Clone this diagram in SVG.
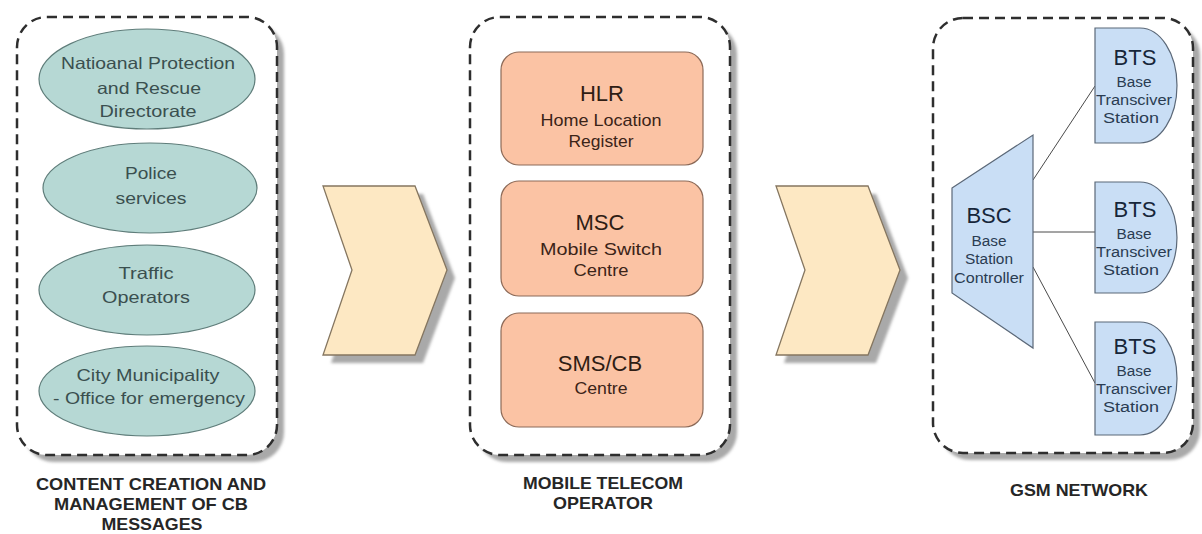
<svg xmlns="http://www.w3.org/2000/svg" width="1202" height="534" viewBox="0 0 1202 534">
  <style>
    text { font-family: "Liberation Sans", Arial, sans-serif; text-anchor: middle; }
    .panel { fill: #ffffff; stroke: #2e2e2e; stroke-width: 2.5; stroke-dasharray: 10 6; }
    .panel-shadow { fill: #a9a9a9; filter: url(#soft); }
    .caption { font-size: 17px; font-weight: bold; fill: #262626; }
    .org { fill: #b6d8d4; stroke: #5f7d7a; stroke-width: 1.2; }
    .org-text { font-size: 16.5px; fill: #3a4f4f; }
    .core { fill: #fbc3a4; stroke: #8c6a58; stroke-width: 1.2; }
    .core-title { font-size: 22px; fill: #2f1d14; }
    .core-sub { font-size: 17px; fill: #3b2418; }
    .flow { fill: #fde8c3; stroke: #857660; stroke-width: 1.3; }
    .flow-shadow { fill: #a9a9a9; filter: url(#soft); }
    .radio { fill: #c9def5; stroke: #5b6878; stroke-width: 1.2; }
    .radio-title { font-size: 22px; fill: #17263a; }
    .radio-sub { font-size: 14px; fill: #2a3c52; }
    .link { stroke: #4a4a4a; stroke-width: 1; fill: none; }
  </style>
  <defs>
    <filter id="soft" x="-10%" y="-10%" width="120%" height="120%">
      <feGaussianBlur stdDeviation="1.5"/>
    </filter>
  </defs>

  <rect width="1202" height="534" fill="#ffffff"/>

  <!-- Content creation panel -->
  <g id="panel-content">
    <rect class="panel-shadow" x="24" y="24" width="260" height="438" rx="30"/>
    <rect class="panel" x="17" y="17" width="260" height="438" rx="30"/>
    <text class="caption" x="151" y="490" textLength="230" lengthAdjust="spacingAndGlyphs">CONTENT CREATION AND</text>
    <text class="caption" x="151" y="510" textLength="194" lengthAdjust="spacingAndGlyphs">MANAGEMENT OF CB</text>
    <text class="caption" x="152" y="530" textLength="101" lengthAdjust="spacingAndGlyphs">MESSAGES</text>
  </g>

  <g id="node-nprd">
    <ellipse class="org" cx="147" cy="79" rx="108" ry="50"/>
    <text class="org-text" x="148" y="69" textLength="174" lengthAdjust="spacingAndGlyphs">Natioanal Protection</text>
    <text class="org-text" x="149" y="94" textLength="104" lengthAdjust="spacingAndGlyphs">and Rescue</text>
    <text class="org-text" x="148" y="117" textLength="97" lengthAdjust="spacingAndGlyphs">Directorate</text>
  </g>
  <g id="node-police">
    <ellipse class="org" cx="150" cy="188" rx="107" ry="45"/>
    <text class="org-text" x="151" y="179" textLength="52" lengthAdjust="spacingAndGlyphs">Police</text>
    <text class="org-text" x="151" y="204" textLength="71" lengthAdjust="spacingAndGlyphs">services</text>
  </g>
  <g id="node-traffic">
    <ellipse class="org" cx="147" cy="290" rx="108" ry="45"/>
    <text class="org-text" x="146" y="279" textLength="55" lengthAdjust="spacingAndGlyphs">Traffic</text>
    <text class="org-text" x="146" y="303" textLength="88" lengthAdjust="spacingAndGlyphs">Operators</text>
  </g>
  <g id="node-city">
    <ellipse class="org" cx="147" cy="391" rx="108" ry="45"/>
    <text class="org-text" x="148" y="381" textLength="143" lengthAdjust="spacingAndGlyphs">City Municipality</text>
    <text class="org-text" x="149" y="404" textLength="192" lengthAdjust="spacingAndGlyphs">- Office for emergency</text>
  </g>

  <!-- Flow chevrons -->
  <g id="flow-1">
    <polygon class="flow-shadow" points="331,194 423,194 455,278 423,363 331,363 360,278"/>
    <polygon class="flow" points="323,186 415,186 447,270 415,355 323,355 352,270"/>
  </g>
  <g id="flow-2">
    <polygon class="flow-shadow" points="784,194 876,194 908,278 876,363 784,363 813,278"/>
    <polygon class="flow" points="776,186 868,186 900,270 868,355 776,355 805,270"/>
  </g>

  <!-- Mobile telecom operator panel -->
  <g id="panel-operator">
    <rect class="panel-shadow" x="477" y="24" width="260" height="438" rx="30"/>
    <rect class="panel" x="470" y="17" width="260" height="438" rx="30"/>
    <text class="caption" x="603" y="489" textLength="160" lengthAdjust="spacingAndGlyphs">MOBILE TELECOM</text>
    <text class="caption" x="603" y="509" textLength="100" lengthAdjust="spacingAndGlyphs">OPERATOR</text>
  </g>

  <g id="node-hlr">
    <rect class="core" x="501" y="52" width="202" height="113" rx="18"/>
    <text class="core-title" x="602" y="101">HLR</text>
    <text class="core-sub" x="601" y="126" textLength="121" lengthAdjust="spacingAndGlyphs">Home Location</text>
    <text class="core-sub" x="601" y="147" textLength="65" lengthAdjust="spacingAndGlyphs">Register</text>
  </g>
  <g id="node-msc">
    <rect class="core" x="501" y="181" width="202" height="115" rx="18"/>
    <text class="core-title" x="600" y="230">MSC</text>
    <text class="core-sub" x="601" y="255" textLength="122" lengthAdjust="spacingAndGlyphs">Mobile Switch</text>
    <text class="core-sub" x="601" y="276" textLength="55" lengthAdjust="spacingAndGlyphs">Centre</text>
  </g>
  <g id="node-smscb">
    <rect class="core" x="501" y="313" width="202" height="114" rx="18"/>
    <text class="core-title" x="600" y="371">SMS/CB</text>
    <text class="core-sub" x="601" y="394" textLength="53" lengthAdjust="spacingAndGlyphs">Centre</text>
  </g>

  <!-- GSM network panel -->
  <g id="panel-gsm">
    <rect class="panel-shadow" x="940" y="25" width="260" height="435" rx="30"/>
    <rect class="panel" x="933" y="18" width="260" height="435" rx="30"/>
    <text class="caption" x="1079" y="496" textLength="138" lengthAdjust="spacingAndGlyphs">GSM NETWORK</text>
  </g>

  <!-- BSC to BTS links -->
  <g id="connectors">
    <line class="link" x1="1033" y1="180" x2="1095" y2="86"/>
    <line class="link" x1="1033" y1="232" x2="1095" y2="232"/>
    <line class="link" x1="1033" y1="267" x2="1095" y2="383"/>
  </g>

  <g id="node-bsc">
    <polygon class="radio" points="952,188 1033,135 1033,348 952,293"/>
    <text class="radio-title" x="989" y="223">BSC</text>
    <text class="radio-sub" x="989" y="246" textLength="35" lengthAdjust="spacingAndGlyphs">Base</text>
    <text class="radio-sub" x="989" y="264" textLength="48" lengthAdjust="spacingAndGlyphs">Station</text>
    <text class="radio-sub" x="989" y="283" textLength="70" lengthAdjust="spacingAndGlyphs">Controller</text>
  </g>
  <g id="node-bts-1">
    <path class="radio" d="M1095,28 H1140 A37,57.5 0 0 1 1140,143 H1095 Z"/>
    <text class="radio-title" x="1135" y="65">BTS</text>
    <text class="radio-sub" x="1134" y="87" textLength="35" lengthAdjust="spacingAndGlyphs">Base</text>
    <text class="radio-sub" x="1134" y="105" textLength="76" lengthAdjust="spacingAndGlyphs">Transciver</text>
    <text class="radio-sub" x="1131" y="123" textLength="56" lengthAdjust="spacingAndGlyphs">Station</text>
  </g>
  <g id="node-bts-2">
    <path class="radio" d="M1095,182 H1140 A37,55.5 0 0 1 1140,293 H1095 Z"/>
    <text class="radio-title" x="1135" y="217">BTS</text>
    <text class="radio-sub" x="1134" y="239" textLength="35" lengthAdjust="spacingAndGlyphs">Base</text>
    <text class="radio-sub" x="1134" y="257" textLength="76" lengthAdjust="spacingAndGlyphs">Transciver</text>
    <text class="radio-sub" x="1131" y="275" textLength="56" lengthAdjust="spacingAndGlyphs">Station</text>
  </g>
  <g id="node-bts-3">
    <path class="radio" d="M1095,322 H1140 A37,56.5 0 0 1 1140,435 H1095 Z"/>
    <text class="radio-title" x="1135" y="354">BTS</text>
    <text class="radio-sub" x="1134" y="376" textLength="35" lengthAdjust="spacingAndGlyphs">Base</text>
    <text class="radio-sub" x="1134" y="394" textLength="76" lengthAdjust="spacingAndGlyphs">Transciver</text>
    <text class="radio-sub" x="1131" y="412" textLength="56" lengthAdjust="spacingAndGlyphs">Station</text>
  </g>
</svg>
